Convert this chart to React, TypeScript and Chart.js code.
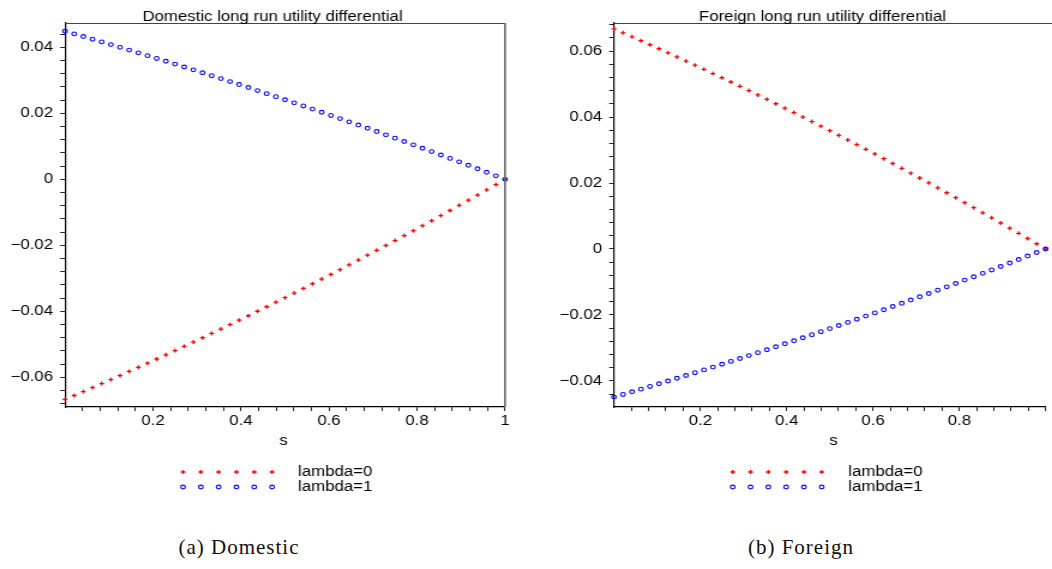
import React, { useEffect, useRef } from "react";
import { Chart, registerables } from "chart.js";

Chart.register(...registerables);

// ---------- data ----------
const sValues = [
  0, 0.0208, 0.0417, 0.0625, 0.0833, 0.1042, 0.125, 0.1458, 0.1667, 0.1875,
  0.2083, 0.2292, 0.25, 0.2708, 0.2917, 0.3125, 0.3333, 0.3542, 0.375, 0.3958,
  0.4167, 0.4375, 0.4583, 0.4792, 0.5, 0.5208, 0.5417, 0.5625, 0.5833, 0.6042,
  0.625, 0.6458, 0.6667, 0.6875, 0.7083, 0.7292, 0.75, 0.7708, 0.7917, 0.8125,
  0.8333, 0.8542, 0.875, 0.8958, 0.9167, 0.9375, 0.9583, 0.9792, 1,
];

// Domestic, lambda=0 (red crosses)
const domesticLambda0 = [
  -0.0667, -0.06552, -0.06432, -0.06312, -0.06191, -0.06069, -0.05946, -0.05822, -0.05697, -0.05572,
  -0.05445, -0.05318, -0.0519, -0.05061, -0.04931, -0.04801, -0.04669, -0.04537, -0.04403, -0.04269,
  -0.04134, -0.03998, -0.03861, -0.03724, -0.03585, -0.03446, -0.03306, -0.03164, -0.03022, -0.0288,
  -0.02736, -0.02591, -0.02446, -0.02299, -0.02152, -0.02004, -0.01855, -0.01705, -0.01555, -0.01403,
  -0.01251, -0.01097, -0.00943, -0.00788, -0.00632, -0.00476, -0.00318, -0.00159, 0,
];

// Domestic, lambda=1 (blue circles)
const domesticLambda1 = [
  0.0449, 0.0441, 0.0433, 0.04249, 0.04167, 0.04085, 0.04002, 0.03919, 0.03835, 0.03751,
  0.03666, 0.0358, 0.03494, 0.03407, 0.0332, 0.03232, 0.03143, 0.03054, 0.02964, 0.02874,
  0.02783, 0.02691, 0.02599, 0.02507, 0.02413, 0.0232, 0.02225, 0.0213, 0.02035, 0.01938,
  0.01842, 0.01744, 0.01646, 0.01548, 0.01449, 0.01349, 0.01249, 0.01148, 0.01047, 0.00944,
  0.00842, 0.00739, 0.00635, 0.00531, 0.00426, 0.0032, 0.00214, 0.00107, 0,
];

// Foreign, lambda=0 (red crosses)
const foreignLambda0 = [
  0.0667, 0.06552, 0.06432, 0.06312, 0.06191, 0.06069, 0.05946, 0.05822, 0.05697, 0.05572,
  0.05445, 0.05318, 0.0519, 0.05061, 0.04931, 0.04801, 0.04669, 0.04537, 0.04403, 0.04269,
  0.04134, 0.03998, 0.03861, 0.03724, 0.03585, 0.03446, 0.03306, 0.03164, 0.03022, 0.0288,
  0.02736, 0.02591, 0.02446, 0.02299, 0.02152, 0.02004, 0.01855, 0.01705, 0.01555, 0.01403,
  0.01251, 0.01097, 0.00943, 0.00788, 0.00632, 0.00476, 0.00318, 0.00159, 0,
];

// Foreign, lambda=1 (blue circles)
const foreignLambda1 = [
  -0.0449, -0.0441, -0.0433, -0.04249, -0.04167, -0.04085, -0.04002, -0.03919, -0.03835, -0.03751,
  -0.03666, -0.0358, -0.03494, -0.03407, -0.0332, -0.03232, -0.03143, -0.03054, -0.02964, -0.02874,
  -0.02783, -0.02691, -0.02599, -0.02507, -0.02413, -0.0232, -0.02225, -0.0213, -0.02035, -0.01938,
  -0.01842, -0.01744, -0.01646, -0.01548, -0.01449, -0.01349, -0.01249, -0.01148, -0.01047, -0.00944,
  -0.00842, -0.00739, -0.00635, -0.00531, -0.00426, -0.0032, -0.00214, -0.00107, 0,
];

const xMajorTicks = [0.2, 0.4, 0.6, 0.8, 1];
const xTickLabelsDomestic = ["0.2", "0.4", "0.6", "0.8", "1"];
const xTickLabelsForeign = ["0.2", "0.4", "0.6", "0.8", ""];
const yMajorDomestic = [-0.06, -0.04, -0.02, 0, 0.02, 0.04];
const yTickLabelsDomestic = ["\u22120.06", "\u22120.04", "\u22120.02", "0", "0.02", "0.04"];
const yMajorForeign = [-0.04, -0.02, 0, 0.02, 0.04, 0.06];
const yTickLabelsForeign = ["\u22120.04", "\u22120.02", "0", "0.02", "0.04", "0.06"];
const legendLabels = ["lambda=0", "lambda=1"];
const chartTitles = ["Domestic long run utility differential", "Foreign long run utility differential"];
const xAxisTitle = "s";
const captions = ["(a) Domestic", "(b) Foreign"];

// ---------- styling / layout ----------
const FONT = "'Liberation Sans', Arial, Helvetica, sans-serif";
const RED = "#ff0000";
const BLUE = "#0000ff";
const CANVAS_H = 505;
const AREA_TOP = 23;
const AREA_BOTTOM = 407;
const X_AXIS_H = 40;
const MINOR_X = 0.04;
const MINOR_Y = 0.004;

type Panel = {
  displayLeft: number;
  displayWidth: number;
  internalWidth: number;
  areaLeft: number; // display px, relative to canvas
  areaRight: number;
  rightBorder: boolean;
  yMin: number;
  yMax: number;
  yMajor: number[];
  yLabels: string[];
  xLabels: string[];
  red: number[];
  blue: number[];
  title: string;
  titleCenter: number;
  sCenter: number;
  legendMarkerStart: number;
  legendTextX: number;
};

const panels: Panel[] = [
  {
    displayLeft: 0,
    displayWidth: 540,
    internalWidth: 450,
    areaLeft: 65,
    areaRight: 505,
    rightBorder: true,
    yMin: -0.069,
    yMax: 0.0474,
    yMajor: yMajorDomestic,
    yLabels: yTickLabelsDomestic,
    xLabels: xTickLabelsDomestic,
    red: domesticLambda0,
    blue: domesticLambda1,
    title: chartTitles[0],
    titleCenter: 272.5,
    sCenter: 283.5,
    legendMarkerStart: 183,
    legendTextX: 298,
  },
  {
    displayLeft: 540,
    displayWidth: 512,
    internalWidth: 427,
    areaLeft: 74,
    areaRight: 511.6,
    rightBorder: false,
    yMin: -0.0479,
    yMax: 0.0685,
    yMajor: yMajorForeign,
    yLabels: yTickLabelsForeign,
    xLabels: xTickLabelsForeign,
    red: foreignLambda0,
    blue: foreignLambda1,
    title: chartTitles[1],
    titleCenter: 282.5,
    sCenter: 293.5,
    legendMarkerStart: 192.7,
    legendTextX: 308.3,
  },
];

function minorValues(min: number, max: number, step: number): number[] {
  const out: number[] = [];
  const k0 = Math.ceil(min / step - 1e-9);
  const k1 = Math.floor(max / step + 1e-9);
  for (let k = k0; k <= k1; k++) out.push(Math.round(k * step * 1e6) / 1e6);
  return out;
}

function labelFor(v: number, majors: number[], labels: string[]): string {
  for (let i = 0; i < majors.length; i++) {
    if (Math.abs(majors[i] - v) < 1e-7) return labels[i];
  }
  return "";
}

function drawCross(ctx: CanvasRenderingContext2D, x: number, y: number, r: number) {
  ctx.beginPath();
  ctx.moveTo(x - r, y);
  ctx.lineTo(x + r, y);
  ctx.moveTo(x, y - r);
  ctx.lineTo(x, y + r);
  ctx.stroke();
}

function buildChart(canvas: HTMLCanvasElement, p: Panel): Chart {
  const F = p.displayWidth / p.internalWidth;
  const areaLeft = p.areaLeft / F;
  const areaRight = p.areaRight / F;
  const xTicks = minorValues(0.04, 1, MINOR_X);
  const yTicks = minorValues(p.yMin, p.yMax, MINOR_Y);

  const decor = {
    id: "decor" + p.displayLeft,
    afterDraw(chart: any) {
      const ctx: CanvasRenderingContext2D = chart.ctx;
      const ca = chart.chartArea;
      ctx.save();
      // frame (top + right)
      ctx.strokeStyle = "#444";
      ctx.lineWidth = 1;
      ctx.beginPath();
      ctx.moveTo(ca.left, ca.top + 0.5);
      ctx.lineTo(p.rightBorder ? ca.right : p.internalWidth, ca.top + 0.5);
      ctx.stroke();
      if (p.rightBorder) {
        ctx.strokeStyle = "#666";
        ctx.lineWidth = 1.6;
        ctx.beginPath();
        ctx.moveTo(ca.right, ca.top);
        ctx.lineTo(ca.right, ca.bottom);
        ctx.stroke();
      }

      // title
      ctx.fillStyle = "#000";
      ctx.font = `14px ${FONT}`;
      ctx.textAlign = "center";
      ctx.textBaseline = "alphabetic";
      ctx.fillText(p.title, p.titleCenter / F, 20.5);

      // x axis title
      ctx.fillText(xAxisTitle, p.sCenter / F, 445);

      // legend
      const rows = [472, 487];
      for (let r = 0; r < 2; r++) {
        for (let i = 0; i < 6; i++) {
          const mx = (p.legendMarkerStart + i * 17.8) / F;
          if (r === 0) {
            ctx.strokeStyle = RED;
            ctx.lineWidth = 1.3;
            drawCross(ctx, mx, rows[r], 2);
          } else {
            ctx.strokeStyle = BLUE;
            ctx.lineWidth = 1.1;
            ctx.beginPath();
            ctx.arc(mx, rows[r], 1.9, 0, Math.PI * 2);
            ctx.stroke();
          }
        }
        ctx.fillStyle = "#000";
        ctx.textAlign = "left";
        ctx.textBaseline = "middle";
        ctx.fillText(legendLabels[r], p.legendTextX / F, rows[r] + 0.5);
      }
      ctx.restore();
    },
  };

  return new Chart(canvas, {
    type: "scatter",
    data: {
      datasets: [
        {
          label: legendLabels[0],
          data: sValues.map((s, i) => ({ x: s, y: p.red[i] })),
          pointStyle: "cross",
          pointRadius: 2,
          pointBorderWidth: 1.3,
          borderColor: RED,
          backgroundColor: RED,
          order: 1,
          clip: false,
        },
        {
          label: legendLabels[1],
          data: sValues.map((s, i) => ({ x: s, y: p.blue[i] })),
          pointStyle: "circle",
          pointRadius: 1.9,
          pointBorderWidth: 1.1,
          borderColor: BLUE,
          backgroundColor: "rgba(0,0,0,0)",
          order: 0,
          clip: false,
        },
      ],
    },
    options: {
      responsive: false,
      animation: false,
      devicePixelRatio: 1,
      events: [],
      layout: {
        padding: {
          left: 0,
          top: AREA_TOP,
          right: Math.max(0, p.internalWidth - areaRight),
          bottom: CANVAS_H - AREA_BOTTOM - X_AXIS_H,
        },
      },
      plugins: {
        legend: { display: false },
        tooltip: { enabled: false },
        title: { display: false },
      },
      scales: {
        x: {
          type: "linear",
          position: "bottom",
          min: 0,
          max: 1,
          afterFit: (sc: any) => {
            sc.height = X_AXIS_H;
          },
          afterBuildTicks: (sc: any) => {
            sc.ticks = xTicks.map((v) => ({ value: v }));
          },
          ticks: {
            autoSkip: false,
            maxRotation: 0,
            minRotation: 0,
            padding: 2,
            color: "#000",
            font: { family: FONT, size: 14 },
            callback: (v: any) => labelFor(Number(v), xMajorTicks, p.xLabels),
          },
          grid: {
            display: true,
            drawOnChartArea: false,
            drawTicks: true,
            tickLength: 4,
            color: "#222",
            lineWidth: 1,
          },
          border: { display: true, color: "#000", width: 1.2 },
        },
        y: {
          type: "linear",
          position: "left",
          min: p.yMin,
          max: p.yMax,
          afterFit: (sc: any) => {
            sc.width = areaLeft;
          },
          afterBuildTicks: (sc: any) => {
            sc.ticks = yTicks.map((v) => ({ value: v }));
          },
          ticks: {
            autoSkip: false,
            padding: 6,
            color: "#000",
            font: { family: FONT, size: 14 },
            callback: (v: any) => labelFor(Number(v), p.yMajor, p.yLabels),
          },
          grid: {
            display: true,
            drawOnChartArea: false,
            drawTicks: true,
            tickLength: 4,
            color: "#222",
            lineWidth: 1,
          },
          border: { display: true, color: "#000", width: 1.2 },
        },
      },
    },
    plugins: [decor],
  } as any);
}

function PanelChart({ p }: { p: Panel }) {
  const ref = useRef<HTMLCanvasElement | null>(null);
  useEffect(() => {
    if (!ref.current) return;
    const chart = buildChart(ref.current, p);
    return () => chart.destroy();
  }, [p]);
  return (
    <canvas
      ref={ref}
      width={p.internalWidth}
      height={CANVAS_H}
      style={{
        position: "absolute",
        left: p.displayLeft,
        top: 0,
        width: `${p.displayWidth}px`,
        height: `${CANVAS_H}px`,
      }}
    />
  );
}

export default function App() {
  useEffect(() => {
    document.body.style.margin = "0";
    document.body.style.overflow = "hidden";
  }, []);
  const captionStyle: React.CSSProperties = {
    position: "absolute",
    top: 533,
    width: 300,
    textAlign: "center",
    fontFamily: "'Liberation Serif', 'DejaVu Serif', serif",
    fontSize: 21,
    letterSpacing: "1px",
    color: "#111",
    lineHeight: "28px",
    whiteSpace: "nowrap",
  };
  return (
    <div style={{ position: "relative", width: 1052, height: 569, overflow: "hidden", background: "#fff" }}>
      <PanelChart p={panels[0]} />
      <PanelChart p={panels[1]} />
      <div style={{ ...captionStyle, left: 239 - 150 }}>{captions[0]}</div>
      <div style={{ ...captionStyle, left: 801 - 150 }}>{captions[1]}</div>
    </div>
  );
}
